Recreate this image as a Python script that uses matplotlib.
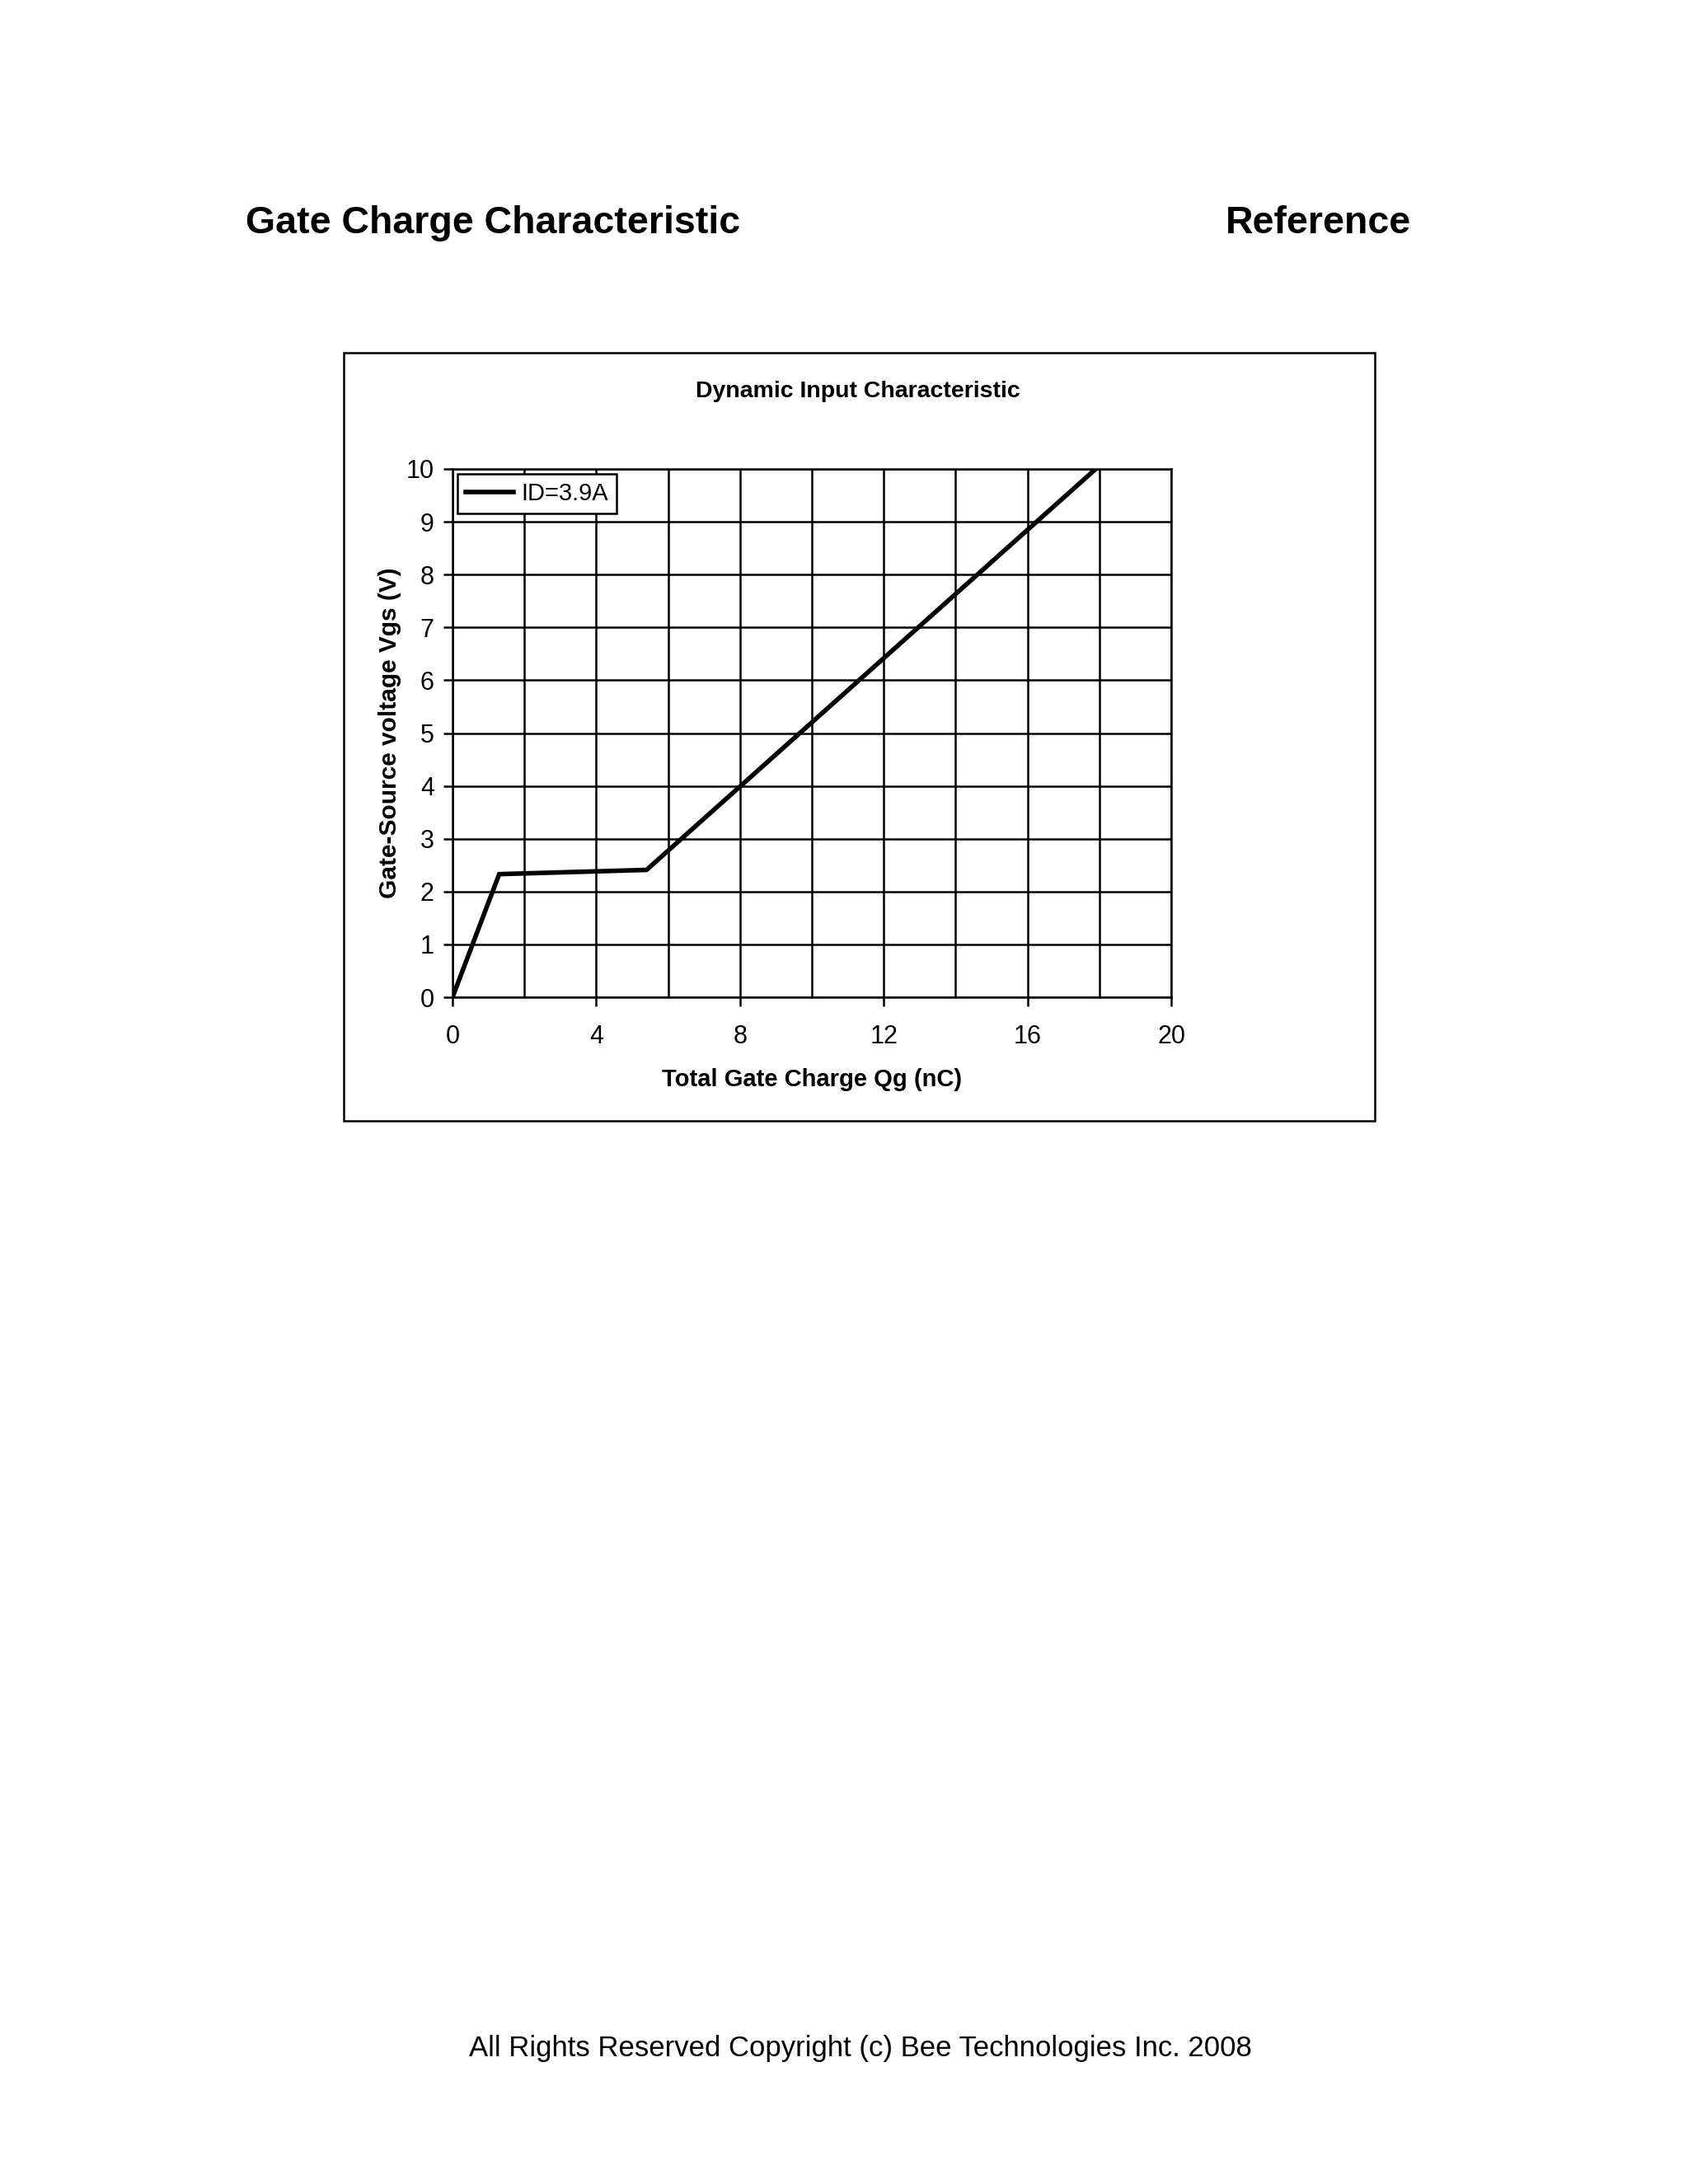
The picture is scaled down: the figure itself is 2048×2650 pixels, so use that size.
import matplotlib
matplotlib.use('Agg')
import matplotlib.pyplot as plt
from matplotlib.patches import Rectangle

plt.rcParams['font.family'] = ['Liberation Sans', 'DejaVu Sans']

# gate charge curve, ID=3.9A
qg = [0, 1.3, 5.4, 17.9]
vgs = [0, 2.33, 2.41, 10]
series_label = 'ID=3.9A'
xticks = [0, 4, 8, 12, 16, 20]
yticks = list(range(0, 11))

W, H = 2048, 2650
fig = plt.figure(figsize=(W / 100, H / 100), dpi=100)

# page texts
fig.text(298 / W, 1 - 271 / H, 'Gate Charge Characteristic', fontsize=33.5,
         fontweight='bold', va='center', ha='left')
fig.text(1712 / W, 1 - 271 / H, 'Reference', fontsize=33.5,
         fontweight='bold', va='center', ha='right')
fig.text(1044 / W, 1 - 2485 / H, 'All Rights Reserved Copyright (c) Bee Technologies Inc. 2008',
         fontsize=25, va='center', ha='center')

# outer chart frame
fig.patches.append(Rectangle((417 / W, 1 - 1360 / H), (1668 - 417) / W, (1360 - 428) / H,
                             transform=fig.transFigure, fill=False, lw=1.8, ec='black'))
fig.text(1041 / W, 1 - 475 / H, 'Dynamic Input Characteristic', fontsize=20.5,
         fontweight='bold', va='center', ha='center')

ax = fig.add_axes([549 / W, 1 - 1210 / H, (1421 - 549) / W, (1210 - 569) / H])
ax.plot(qg, vgs, color='black', lw=4, label=series_label, solid_joinstyle='miter')
ax.set_xlim(0, 20)
ax.set_ylim(0, 10)
ax.set_xticks(xticks)
ax.set_yticks(yticks)
ax.set_xticks(range(0, 21, 2), minor=True)
ax.grid(True, which='both', axis='x', color='black', lw=1.8)
ax.grid(True, which='major', axis='y', color='black', lw=1.8)
ax.tick_params(which='both', direction='out', length=8, width=1.8, labelsize=22)
ax.tick_params(axis='x', pad=16)
ax.tick_params(axis='y', pad=8)
ax.tick_params(which='minor', length=0)
for s in ax.spines.values():
    s.set_linewidth(1.8)
ax.set_xlabel('Total Gate Charge Qg (nC)', fontsize=21, fontweight='bold', labelpad=16)
ax.set_ylabel('Gate-Source voltage Vgs (V)', fontsize=21.5, fontweight='bold', labelpad=4)

leg = ax.legend(loc='upper left', fontsize=21, fancybox=False, framealpha=1,
                borderaxespad=0.2, handlelength=2.0, handletextpad=0.3,
                borderpad=0.35)
leg.get_frame().set_edgecolor('black')
leg.get_frame().set_linewidth(1.8)

fig.savefig('out.png', dpi=100, facecolor='white')
